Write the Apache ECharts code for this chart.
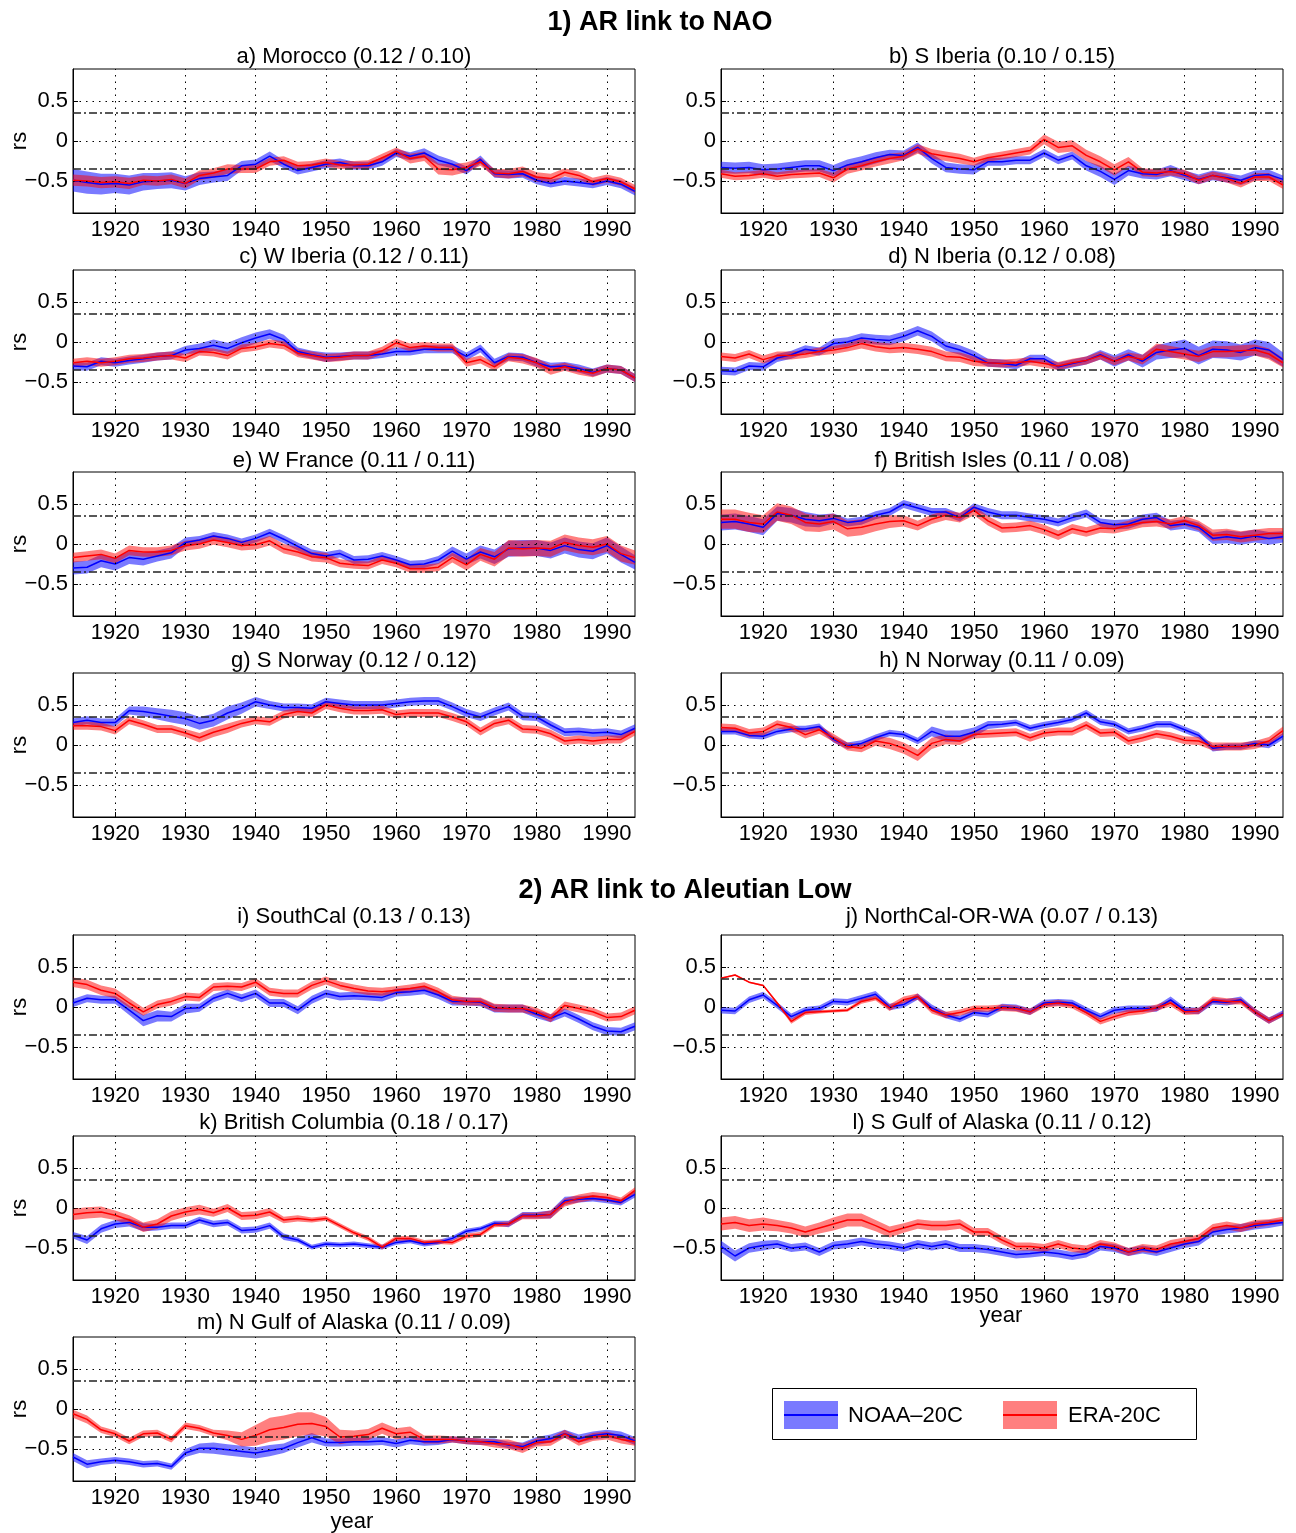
<!DOCTYPE html>
<html><head><meta charset="utf-8">
<script src="https://cdn.jsdelivr.net/npm/echarts@6/dist/echarts.min.js"></script>
<style>html,body{margin:0;padding:0;background:#fff}#c{width:1296px;height:1533px}</style>
</head><body><div id="c"></div>
<script>
// ---------- data ----------
const YEARS=[1914,1916,1918,1920,1922,1924,1926,1928,1930,1932,1934,1936,1938,1940,1942,1944,1946,1948,1950,1952,1954,1956,1958,1960,1962,1964,1966,1968,1970,1972,1974,1976,1978,1980,1982,1984,1986,1988,1990,1992,1994];
const X_TICKS=[1920,1930,1940,1950,1960,1970,1980,1990];
const Y_TICKS=[-0.5,0,0.5];
const SIG_LEVELS=[-0.35,0.35];

const A_NOAA=[-0.49,-0.52,-0.54,-0.53,-0.55,-0.51,-0.50,-0.49,-0.53,-0.47,-0.45,-0.43,-0.31,-0.29,-0.19,-0.29,-0.37,-0.33,-0.29,-0.27,-0.31,-0.31,-0.26,-0.15,-0.19,-0.15,-0.24,-0.29,-0.37,-0.23,-0.41,-0.42,-0.41,-0.49,-0.53,-0.50,-0.52,-0.54,-0.50,-0.54,-0.63];
const A_NOAA_SD=[14,14,13,12,12,11,10,10,9,8,7,7,6,6,6,5,5,5,5,5,5,5,5,5,5,6,6,5,5,5,5,5,5,5,5,5,5,5,5,5,5];
const A_ERA=[-0.49,-0.50,-0.52,-0.51,-0.53,-0.49,-0.50,-0.48,-0.53,-0.43,-0.40,-0.35,-0.35,-0.35,-0.26,-0.24,-0.31,-0.30,-0.27,-0.30,-0.30,-0.29,-0.21,-0.13,-0.22,-0.19,-0.35,-0.36,-0.33,-0.26,-0.40,-0.41,-0.38,-0.45,-0.47,-0.39,-0.43,-0.51,-0.47,-0.51,-0.60];
const A_ERA_SD=[7,7,7,7,7,6,6,6,6,6,6,6,5,5,5,5,5,5,5,5,5,5,5,5,6,6,7,7,6,5,5,6,6,6,6,5,5,5,5,5,5];

const B_NOAA=[-0.33,-0.34,-0.33,-0.36,-0.35,-0.33,-0.31,-0.31,-0.37,-0.30,-0.26,-0.21,-0.17,-0.18,-0.08,-0.22,-0.33,-0.35,-0.36,-0.26,-0.26,-0.24,-0.24,-0.15,-0.24,-0.18,-0.31,-0.38,-0.48,-0.37,-0.41,-0.42,-0.37,-0.43,-0.48,-0.43,-0.46,-0.49,-0.43,-0.42,-0.48];
const B_NOAA_SD=[7,7,7,7,7,7,7,7,7,7,7,7,6,6,6,6,6,6,6,5,5,5,5,5,5,5,6,7,7,6,6,6,7,6,6,6,6,6,6,6,5];
const B_ERA=[-0.41,-0.44,-0.43,-0.41,-0.44,-0.42,-0.41,-0.40,-0.46,-0.35,-0.31,-0.26,-0.22,-0.19,-0.10,-0.16,-0.19,-0.22,-0.26,-0.21,-0.18,-0.15,-0.12,0.02,-0.08,-0.06,-0.18,-0.26,-0.36,-0.26,-0.39,-0.40,-0.38,-0.41,-0.49,-0.43,-0.47,-0.53,-0.45,-0.45,-0.55];
const B_ERA_SD=[5,5,5,5,5,5,5,5,6,6,6,6,6,5,6,6,6,6,5,5,5,5,5,6,7,7,7,7,7,6,5,5,5,5,5,5,5,5,5,5,5];

const C_NOAA=[-0.30,-0.31,-0.24,-0.26,-0.23,-0.21,-0.18,-0.17,-0.10,-0.08,-0.04,-0.08,-0.01,0.05,0.10,0.03,-0.12,-0.16,-0.19,-0.18,-0.17,-0.17,-0.15,-0.12,-0.12,-0.09,-0.09,-0.09,-0.18,-0.08,-0.26,-0.18,-0.19,-0.26,-0.31,-0.30,-0.33,-0.38,-0.33,-0.35,-0.45];
const C_NOAA_SD=[5,5,5,5,5,5,5,5,5,6,7,7,7,7,6,6,5,5,6,5,5,5,5,5,5,5,5,5,5,5,5,5,5,5,5,5,5,5,5,5,5];
const C_ERA=[-0.26,-0.24,-0.26,-0.24,-0.21,-0.20,-0.18,-0.17,-0.20,-0.12,-0.13,-0.17,-0.08,-0.06,-0.02,-0.04,-0.14,-0.17,-0.20,-0.19,-0.17,-0.17,-0.11,-0.01,-0.07,-0.05,-0.07,-0.07,-0.26,-0.22,-0.31,-0.19,-0.21,-0.26,-0.35,-0.31,-0.36,-0.39,-0.33,-0.35,-0.45];
const C_ERA_SD=[5,5,5,5,5,5,5,5,5,5,5,5,5,5,5,5,5,5,5,5,5,5,5,5,5,5,5,5,5,5,5,5,6,6,6,5,5,5,5,5,5];

const D_NOAA=[-0.36,-0.37,-0.30,-0.31,-0.20,-0.16,-0.09,-0.12,-0.02,0.00,0.05,0.03,0.02,0.07,0.14,0.07,-0.05,-0.10,-0.17,-0.26,-0.27,-0.29,-0.21,-0.21,-0.31,-0.27,-0.23,-0.16,-0.24,-0.16,-0.24,-0.13,-0.10,-0.08,-0.17,-0.09,-0.10,-0.13,-0.07,-0.10,-0.22];
const D_NOAA_SD=[5,5,5,5,5,5,5,5,6,6,6,6,6,6,6,6,6,6,6,5,5,5,5,5,5,5,5,6,7,7,8,9,10,11,11,11,11,10,10,10,9];
const D_ERA=[-0.18,-0.20,-0.15,-0.22,-0.17,-0.17,-0.15,-0.12,-0.10,-0.07,-0.02,-0.06,-0.08,-0.07,-0.09,-0.12,-0.18,-0.19,-0.24,-0.26,-0.27,-0.26,-0.24,-0.27,-0.30,-0.26,-0.23,-0.17,-0.24,-0.18,-0.22,-0.09,-0.12,-0.15,-0.18,-0.12,-0.12,-0.11,-0.10,-0.15,-0.26];
const D_ERA_SD=[5,5,5,5,5,5,5,5,5,5,6,6,6,6,6,6,6,6,6,5,5,5,5,5,5,5,5,5,5,5,6,7,7,7,7,7,7,7,7,7,6];

const E_NOAA=[-0.30,-0.29,-0.21,-0.25,-0.17,-0.19,-0.15,-0.11,0.02,0.05,0.10,0.07,0.02,0.07,0.14,0.06,-0.03,-0.12,-0.15,-0.12,-0.20,-0.19,-0.15,-0.20,-0.26,-0.25,-0.20,-0.09,-0.19,-0.10,-0.16,-0.06,-0.05,-0.05,-0.08,-0.02,-0.07,-0.09,-0.02,-0.13,-0.23];
const E_NOAA_SD=[8,8,8,8,8,8,7,7,6,5,5,5,5,5,5,5,5,5,5,5,5,5,5,5,5,5,5,6,7,8,9,10,10,10,10,10,10,10,10,10,9];
const E_ERA=[-0.17,-0.15,-0.13,-0.18,-0.08,-0.10,-0.10,-0.08,-0.02,0.00,0.05,0.02,-0.02,-0.01,0.04,-0.06,-0.10,-0.16,-0.17,-0.24,-0.26,-0.27,-0.20,-0.24,-0.31,-0.31,-0.29,-0.17,-0.26,-0.13,-0.19,-0.05,-0.06,-0.05,-0.06,0.02,-0.02,-0.04,0.00,-0.12,-0.17];
const E_ERA_SD=[6,6,6,6,6,6,6,6,6,6,6,6,6,6,6,6,6,6,6,5,5,5,5,5,5,5,5,6,7,8,9,10,10,10,10,10,10,10,10,10,9];

const F_NOAA=[0.27,0.28,0.25,0.21,0.38,0.36,0.31,0.29,0.32,0.27,0.29,0.36,0.40,0.50,0.45,0.40,0.40,0.33,0.46,0.40,0.36,0.36,0.33,0.31,0.27,0.33,0.38,0.27,0.24,0.25,0.31,0.33,0.23,0.25,0.21,0.07,0.09,0.07,0.10,0.07,0.09];
const F_NOAA_SD=[10,10,10,10,9,9,9,8,6,5,5,5,5,5,5,5,5,5,5,5,5,5,5,5,5,5,5,5,6,6,6,6,6,6,6,7,8,8,8,8,7];
const F_ERA=[0.31,0.31,0.27,0.25,0.40,0.36,0.27,0.25,0.28,0.19,0.21,0.25,0.28,0.29,0.23,0.31,0.36,0.33,0.42,0.29,0.20,0.21,0.23,0.18,0.11,0.19,0.15,0.20,0.19,0.23,0.27,0.28,0.25,0.29,0.23,0.11,0.12,0.09,0.11,0.13,0.13];
const F_ERA_SD=[12,12,12,11,11,11,11,10,10,10,10,9,8,7,6,6,6,6,6,6,6,6,6,6,6,6,6,6,6,6,6,6,6,6,6,7,7,7,7,7,7];

const G_NOAA=[0.28,0.31,0.28,0.28,0.43,0.42,0.39,0.36,0.33,0.27,0.31,0.40,0.46,0.54,0.50,0.47,0.47,0.46,0.54,0.52,0.50,0.50,0.50,0.52,0.54,0.55,0.55,0.48,0.40,0.35,0.42,0.48,0.36,0.35,0.25,0.16,0.17,0.15,0.16,0.13,0.21];
const G_NOAA_SD=[5,5,5,5,5,6,7,8,8,8,8,8,7,6,5,5,5,5,5,5,5,5,5,5,5,5,5,5,5,5,5,5,5,5,5,5,5,5,5,5,5];
const G_ERA=[0.24,0.24,0.23,0.18,0.31,0.26,0.20,0.20,0.15,0.09,0.16,0.21,0.27,0.31,0.29,0.38,0.42,0.40,0.50,0.46,0.43,0.43,0.44,0.38,0.40,0.40,0.40,0.35,0.29,0.17,0.27,0.31,0.20,0.19,0.14,0.05,0.07,0.05,0.07,0.07,0.17];
const G_ERA_SD=[5,5,5,5,5,5,5,5,5,6,6,6,5,5,5,5,5,5,5,5,5,5,5,5,5,5,5,5,5,5,5,5,5,5,5,5,5,5,5,5,5];

const H_NOAA=[0.17,0.17,0.12,0.11,0.17,0.20,0.20,0.23,0.07,-0.01,0.02,0.09,0.15,0.13,0.05,0.17,0.11,0.11,0.16,0.25,0.26,0.28,0.21,0.25,0.28,0.32,0.40,0.29,0.26,0.17,0.21,0.26,0.26,0.19,0.12,-0.04,-0.02,-0.02,0.02,0.00,0.11];
const H_NOAA_SD=[4,4,4,4,4,4,4,4,4,4,4,4,4,4,4,6,7,7,6,5,4,4,4,4,4,4,4,4,4,4,4,4,4,4,4,4,4,4,4,4,4];
const H_ERA=[0.22,0.21,0.15,0.17,0.26,0.22,0.13,0.19,0.09,-0.02,-0.04,0.05,0.02,-0.04,-0.13,0.02,0.07,0.05,0.13,0.14,0.15,0.16,0.09,0.15,0.17,0.17,0.25,0.15,0.16,0.05,0.09,0.14,0.11,0.06,0.05,-0.02,-0.02,-0.02,0.00,0.05,0.18];
const H_ERA_SD=[5,5,5,5,5,5,5,5,5,5,5,6,7,7,7,7,6,5,5,5,5,5,5,5,5,5,5,5,5,5,5,5,5,5,5,5,5,5,5,5,5];

const I_NOAA=[0.05,0.11,0.09,0.09,-0.04,-0.17,-0.11,-0.12,-0.02,-0.01,0.11,0.17,0.11,0.17,0.05,0.05,-0.04,0.09,0.17,0.13,0.14,0.13,0.12,0.18,0.19,0.21,0.15,0.07,0.07,0.06,-0.02,-0.02,-0.02,-0.09,-0.14,-0.07,-0.15,-0.24,-0.30,-0.31,-0.24];
const I_NOAA_SD=[5,5,5,5,6,7,7,6,6,5,5,5,5,5,5,5,5,5,5,5,5,5,5,5,5,5,5,5,5,5,5,5,5,5,5,5,5,5,5,5,5];
const I_ERA=[0.31,0.28,0.21,0.17,0.05,-0.06,0.03,0.07,0.13,0.12,0.25,0.26,0.25,0.31,0.19,0.17,0.17,0.27,0.33,0.27,0.23,0.20,0.19,0.21,0.23,0.26,0.19,0.09,0.07,0.07,-0.01,-0.02,-0.02,-0.06,-0.14,0.02,-0.02,-0.06,-0.13,-0.12,-0.04];
const I_ERA_SD=[6,6,6,6,6,5,5,5,5,5,5,5,5,5,5,5,5,5,5,5,5,5,5,5,5,5,5,5,5,5,5,5,5,5,5,5,5,5,5,5,5];

const J_NOAA=[-0.04,-0.05,0.09,0.15,0.02,-0.12,-0.04,-0.02,0.07,0.06,0.11,0.16,0.00,0.03,0.13,-0.01,-0.10,-0.15,-0.07,-0.09,0.00,-0.01,-0.06,0.05,0.06,0.05,-0.04,-0.12,-0.04,-0.02,-0.02,-0.02,0.09,-0.04,-0.05,0.07,0.06,0.09,-0.06,-0.17,-0.08];
const J_NOAA_SD=[4,4,4,4,4,4,4,4,4,4,4,4,4,4,4,4,4,4,4,4,4,4,4,4,4,4,4,4,4,4,4,4,4,4,4,4,4,4,4,4,4];
const J_ERA=[0.36,0.40,0.31,0.27,0.05,-0.18,-0.07,-0.06,-0.05,-0.04,0.07,0.11,-0.01,0.09,0.13,-0.04,-0.10,-0.07,-0.02,-0.02,-0.01,-0.02,-0.06,0.03,0.05,0.02,-0.07,-0.18,-0.12,-0.07,-0.05,-0.01,0.05,-0.06,-0.05,0.09,0.07,0.07,-0.06,-0.17,-0.09];
const J_ERA_SD=[1,1,1,1,2,3,3,2,2,2,3,3,4,4,4,4,4,4,4,4,4,4,4,4,4,4,4,4,4,4,4,4,4,4,4,4,4,4,4,4,3];

const K_NOAA=[-0.34,-0.40,-0.26,-0.20,-0.18,-0.24,-0.24,-0.22,-0.22,-0.15,-0.20,-0.18,-0.28,-0.27,-0.22,-0.36,-0.40,-0.49,-0.45,-0.46,-0.45,-0.47,-0.49,-0.43,-0.41,-0.45,-0.43,-0.38,-0.29,-0.26,-0.19,-0.20,-0.09,-0.09,-0.08,0.09,0.11,0.12,0.10,0.07,0.17];
const K_NOAA_SD=[4,5,5,5,5,5,4,4,4,4,4,4,4,4,4,4,3,3,3,3,3,3,3,3,3,3,3,3,3,3,3,4,4,4,5,5,4,4,4,4,4];
const K_ERA=[-0.08,-0.06,-0.05,-0.09,-0.15,-0.24,-0.20,-0.10,-0.05,-0.02,-0.06,0.00,-0.10,-0.09,-0.05,-0.15,-0.13,-0.15,-0.13,-0.22,-0.31,-0.38,-0.49,-0.38,-0.38,-0.43,-0.42,-0.43,-0.35,-0.33,-0.21,-0.20,-0.10,-0.10,-0.08,0.07,0.12,0.15,0.13,0.09,0.22];
const K_ERA_SD=[7,7,7,6,6,6,6,6,6,6,5,5,5,5,5,4,4,3,3,3,3,3,3,3,3,3,3,3,3,3,3,3,4,4,5,5,5,5,5,4,4];

const L_NOAA=[-0.48,-0.60,-0.50,-0.47,-0.45,-0.50,-0.48,-0.55,-0.47,-0.45,-0.42,-0.45,-0.47,-0.50,-0.45,-0.48,-0.45,-0.50,-0.50,-0.52,-0.55,-0.58,-0.57,-0.55,-0.57,-0.60,-0.57,-0.48,-0.50,-0.55,-0.52,-0.55,-0.50,-0.45,-0.42,-0.30,-0.27,-0.25,-0.22,-0.20,-0.18];
const L_NOAA_SD=[7,7,6,6,5,5,5,5,5,5,5,5,5,5,5,5,5,5,5,5,5,5,5,5,5,5,5,5,5,5,5,5,5,5,5,5,5,5,5,5,4];
const L_ERA=[-0.20,-0.18,-0.22,-0.20,-0.22,-0.25,-0.30,-0.25,-0.20,-0.15,-0.15,-0.22,-0.30,-0.25,-0.20,-0.22,-0.22,-0.20,-0.30,-0.30,-0.40,-0.48,-0.48,-0.50,-0.45,-0.50,-0.52,-0.45,-0.48,-0.55,-0.50,-0.52,-0.45,-0.42,-0.38,-0.25,-0.22,-0.25,-0.20,-0.18,-0.15];
const L_ERA_SD=[8,8,8,8,7,7,7,7,8,8,8,7,7,6,6,6,6,6,5,5,5,5,5,5,5,5,5,5,5,5,5,5,5,5,5,5,5,5,5,4,4];

const M_NOAA=[-0.60,-0.69,-0.66,-0.64,-0.66,-0.69,-0.68,-0.72,-0.55,-0.49,-0.49,-0.51,-0.53,-0.55,-0.52,-0.49,-0.42,-0.36,-0.42,-0.42,-0.41,-0.41,-0.40,-0.43,-0.39,-0.41,-0.41,-0.38,-0.40,-0.41,-0.41,-0.45,-0.47,-0.40,-0.37,-0.31,-0.37,-0.33,-0.31,-0.33,-0.40];
const M_NOAA_SD=[5,5,4,4,4,4,4,4,5,6,7,7,7,7,7,6,6,6,5,5,5,5,5,5,5,5,4,4,4,4,4,4,5,5,5,5,5,5,5,5,5];
const M_ERA=[-0.06,-0.13,-0.26,-0.31,-0.40,-0.31,-0.30,-0.38,-0.21,-0.24,-0.30,-0.33,-0.38,-0.33,-0.26,-0.23,-0.19,-0.18,-0.22,-0.35,-0.34,-0.32,-0.24,-0.31,-0.29,-0.38,-0.38,-0.38,-0.40,-0.41,-0.43,-0.44,-0.49,-0.42,-0.41,-0.31,-0.41,-0.35,-0.33,-0.38,-0.41];
const M_ERA_SD=[5,5,4,4,4,4,4,4,4,4,4,6,9,13,15,15,15,14,12,9,7,7,7,7,7,5,5,4,4,4,5,6,6,5,5,5,5,5,5,5,5];

const PANEL_TITLES=['a) Morocco (0.12 / 0.10)','b) S Iberia (0.10 / 0.15)','c) W Iberia (0.12 / 0.11)','d) N Iberia (0.12 / 0.08)','e) W France (0.11 / 0.11)','f) British Isles (0.11 / 0.08)','g) S Norway (0.12 / 0.12)','h) N Norway (0.11 / 0.09)','i) SouthCal (0.13 / 0.13)','j) NorthCal-OR-WA (0.07 / 0.13)','k) British Columbia (0.18 / 0.17)','l) S Gulf of Alaska (0.11 / 0.12)','m) N Gulf of Alaska (0.11 / 0.09)'];
const NOAA_SERIES=[A_NOAA,B_NOAA,C_NOAA,D_NOAA,E_NOAA,F_NOAA,G_NOAA,H_NOAA,I_NOAA,J_NOAA,K_NOAA,L_NOAA,M_NOAA];
const NOAA_SPREAD=[A_NOAA_SD,B_NOAA_SD,C_NOAA_SD,D_NOAA_SD,E_NOAA_SD,F_NOAA_SD,G_NOAA_SD,H_NOAA_SD,I_NOAA_SD,J_NOAA_SD,K_NOAA_SD,L_NOAA_SD,M_NOAA_SD];
const ERA_SERIES=[A_ERA,B_ERA,C_ERA,D_ERA,E_ERA,F_ERA,G_ERA,H_ERA,I_ERA,J_ERA,K_ERA,L_ERA,M_ERA];
const ERA_SPREAD=[A_ERA_SD,B_ERA_SD,C_ERA_SD,D_ERA_SD,E_ERA_SD,F_ERA_SD,G_ERA_SD,H_ERA_SD,I_ERA_SD,J_ERA_SD,K_ERA_SD,L_ERA_SD,M_ERA_SD];

// ---------- layout ----------
const COL_X=[73,721], PW=562, PH=144;
const ROW_TOP=[69,270,472,673,935,1136,1337];
const TITLE_Y=[57,257,461,661,917,1123,1323];
const FONT='"Liberation Sans", Arial, Helvetica, sans-serif';
const BLUE='#0000ff', RED='#ff0000';
const BLUE_BAND='rgba(0,0,255,0.52)', RED_BAND='rgba(255,0,0,0.5)';

const grids=[],xAxes=[],yAxes=[],series=[],graphics=[];

function bandSeries(i,vals,sd,color){
  return {type:'custom',xAxisIndex:i,yAxisIndex:i,z:2,silent:true,animation:false,
    data:[[YEARS[0],vals[0]]],encode:{x:0,y:1},
    renderItem:function(params,api){
      const up=[],lo=[];
      const n=Math.min(YEARS.length,vals.length,sd.length);
      for(let k=0;k<n;k++){
        up.push(api.coord([YEARS[k],vals[k]+sd[k]/100]));
        lo.push(api.coord([YEARS[k],vals[k]-sd[k]/100]));
      }
      return {type:'polygon',shape:{points:up.concat(lo.reverse())},style:{fill:color,stroke:null}};
    }};
}
function lineSeries(i,vals,color){
  return {type:'line',xAxisIndex:i,yAxisIndex:i,z:3,silent:true,animation:false,
    showSymbol:false,symbol:'none',
    data:YEARS.map((y,k)=>[y,vals[k]]),
    lineStyle:{color:color,width:1.5}};
}
const dotted={type:[1.5,5],color:'#000',width:1};
const dashdot={type:[8,3,2,3],color:'#222',width:1.5};

function txt(x,y,s,font,align,rot){
  const o={type:'text',x:x,y:y,z:10,style:{text:s,font:font,fill:'#000',textAlign:align||'center',align:align||'center',textVerticalAlign:'middle',verticalAlign:'middle'}};
  if(rot) o.rotation=rot;
  return o;
}

for(let i=0;i<PANEL_TITLES.length;i++){
  const row=Math.floor(i/2), col=i%2;
  const left=COL_X[col], top=ROW_TOP[row];
  grids.push({left:left,top:top,width:PW,height:PH,show:true,borderColor:'#000',borderWidth:1,backgroundColor:'#fff',
    outerBoundsMode:'none',containLabel:false});
  xAxes.push({type:'value',gridIndex:i,min:1914,max:1994,
    axisLine:{show:true,onZero:false,lineStyle:{color:'#000',width:1}},
    axisTick:{show:true,inside:true,length:5,customValues:X_TICKS,lineStyle:{color:'#000'}},
    axisLabel:{customValues:X_TICKS,formatter:v=>String(v),fontSize:22,color:'#000',fontFamily:FONT,margin:6},
    splitLine:{show:false}});
  yAxes.push({type:'value',gridIndex:i,min:-0.9,max:0.9,
    axisLine:{show:true,onZero:false,lineStyle:{color:'#000',width:1}},
    axisTick:{show:true,inside:true,length:5,customValues:Y_TICKS,lineStyle:{color:'#000'}},
    axisLabel:{customValues:Y_TICKS,formatter:v=>(v===0?'0':(v<0?'\u2212'+String(-v):String(v))),fontSize:22,color:'#000',fontFamily:FONT,margin:5},
    splitLine:{show:false}});
  series.push({type:'line',xAxisIndex:i,yAxisIndex:i,z:1,silent:true,animation:false,
    data:[[1914,0]],showSymbol:false,symbol:'none',lineStyle:{opacity:0},
    markLine:{silent:true,symbol:'none',animation:false,label:{show:false},
      data:[].concat(
        X_TICKS.map(x=>({xAxis:x,lineStyle:dotted})),
        Y_TICKS.map(y=>({yAxis:y,lineStyle:dotted})),
        SIG_LEVELS.map(y=>({yAxis:y,lineStyle:dashdot})))}});
  series.push(bandSeries(i,NOAA_SERIES[i],NOAA_SPREAD[i],BLUE_BAND));
  series.push(bandSeries(i,ERA_SERIES[i],ERA_SPREAD[i],RED_BAND));
  series.push(lineSeries(i,NOAA_SERIES[i],BLUE));
  series.push(lineSeries(i,ERA_SERIES[i],RED));
  graphics.push(txt(left+PW/2,TITLE_Y[row],PANEL_TITLES[i],'22px '+FONT));
  if(col===0) graphics.push(txt(20,top+PH/2,'rs','22px '+FONT,'center',Math.PI/2));
}

graphics.push(txt(660,23,'1) AR link to NAO','bold 27px '+FONT));
graphics.push(txt(685,891,'2) AR link to Aleutian Low','bold 27px '+FONT));
graphics.push(txt(1001,1316,'year','22px '+FONT));
graphics.push(txt(352,1522,'year','22px '+FONT));
// legend
graphics.push({type:'rect',z:10,shape:{x:772.5,y:1388.5,width:424,height:51},style:{fill:'#fff',stroke:'#000',lineWidth:1}});
graphics.push({type:'rect',z:11,shape:{x:784,y:1401,width:54,height:28},style:{fill:BLUE_BAND}});
graphics.push({type:'line',z:12,shape:{x1:784,y1:1415,x2:838,y2:1415},style:{stroke:BLUE,lineWidth:2}});
graphics.push(txt(848,1416,'NOAA\u201320C','22px '+FONT,'left'));
graphics.push({type:'rect',z:11,shape:{x:1003,y:1401,width:54,height:28},style:{fill:RED_BAND}});
graphics.push({type:'line',z:12,shape:{x1:1003,y1:1415,x2:1057,y2:1415},style:{stroke:RED,lineWidth:2}});
graphics.push(txt(1068,1416,'ERA-20C','22px '+FONT,'left'));

const chart=echarts.init(document.getElementById('c'),null,{renderer:'canvas'});
chart.setOption({animation:false,backgroundColor:'#fff',grid:grids,xAxis:xAxes,yAxis:yAxes,series:series,graphic:{elements:graphics}});
</script></body></html>
